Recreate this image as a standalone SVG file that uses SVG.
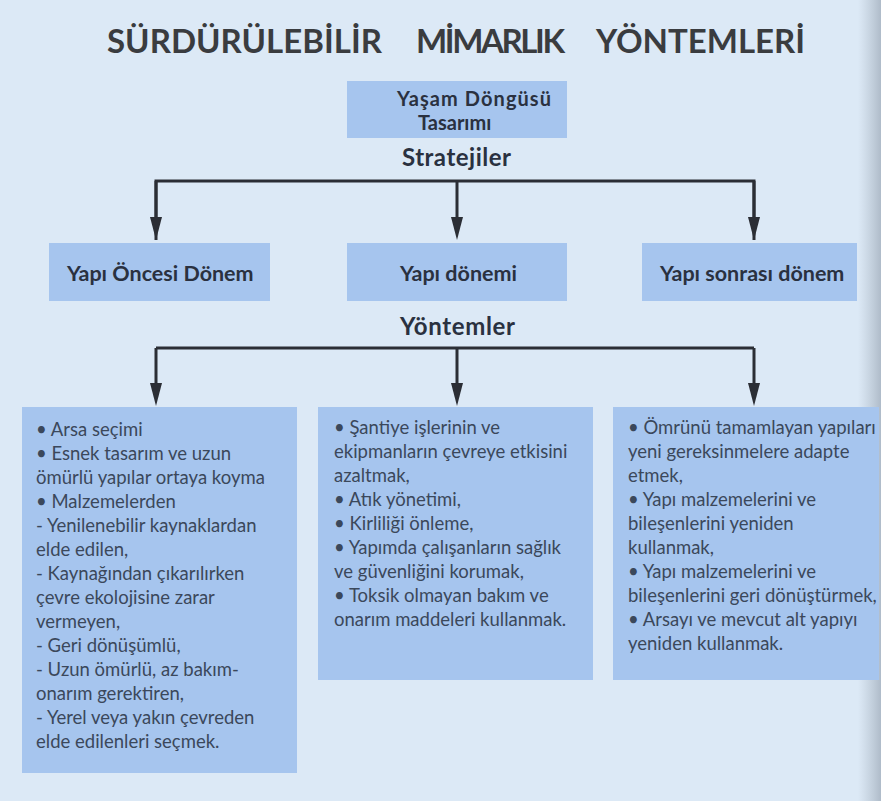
<svg xmlns="http://www.w3.org/2000/svg" width="881" height="801" viewBox="0 0 881 801">
<defs>
<linearGradient id="edge" x1="0" y1="0" x2="1" y2="0">
<stop offset="0" stop-color="#9aa6b2" stop-opacity="0"/>
<stop offset="1" stop-color="#8a96a4" stop-opacity="0.55"/>
</linearGradient>
<marker id="arr" markerUnits="userSpaceOnUse" markerWidth="24" markerHeight="14" refX="1" refY="6" orient="auto">
<path d="M0,0 L23,6 L0,12 Z" fill="#2b2e35"/>
</marker>
<style>
.box{fill:#a6c5ee;}
.lbl{font-family:Lato,"Open Sans","Liberation Sans",sans-serif;font-weight:700;fill:#2a3140;}
.title{font-family:Lato,"Open Sans","Liberation Sans",sans-serif;font-weight:700;font-size:33px;fill:#3a3c3f;}
.body{font-family:Lato,"Open Sans","Liberation Sans",sans-serif;font-size:18.5px;fill:#3b485b;}
.conn{fill:none;stroke:#2b2e35;stroke-width:3;}
</style>
</defs>
<rect width="881" height="801" fill="#dce9f6"/>
<rect x="858" y="0" width="23" height="801" fill="url(#edge)"/>

<g id="title">
<text class="title" x="107" y="53" textLength="275">SÜRDÜRÜLEBİLİR</text>
<text class="title" x="416" y="53" textLength="149">MİMARLIK</text>
<text class="title" x="596" y="53" textLength="209">YÖNTEMLERİ</text>
</g>

<g id="node-yasam">
<rect class="box" x="347" y="81" width="220" height="57"/>
<text class="lbl" x="397" y="106" font-size="20" textLength="154">Yaşam Döngüsü</text>
<text class="lbl" x="418" y="130" font-size="20">Tasarımı</text>
</g>

<g id="label-stratejiler">
<text class="lbl" x="402" y="166" font-size="24" textLength="109">Stratejiler</text>
</g>

<g id="node-oncesi">
<rect class="box" x="49" y="243" width="221" height="58"/>
<text class="lbl" x="67" y="281" font-size="21.5">Yapı Öncesi Dönem</text>
</g>
<g id="node-donemi">
<rect class="box" x="347" y="243" width="220" height="58"/>
<text class="lbl" x="400" y="281" font-size="21.5">Yapı dönemi</text>
</g>
<g id="node-sonrasi">
<rect class="box" x="642" y="243" width="215" height="58"/>
<text class="lbl" x="660" y="281" font-size="21.5">Yapı sonrası dönem</text>
</g>

<g id="label-yontemler">
<text class="lbl" x="400" y="335" font-size="24" textLength="115">Yöntemler</text>
</g>

<g id="node-left">
<rect class="box" x="22" y="407" width="275" height="366"/>
<text class="body">
<tspan x="36" y="436">• Arsa seçimi</tspan>
<tspan x="36" y="460">• Esnek tasarım ve uzun</tspan>
<tspan x="36" y="484">ömürlü yapılar ortaya koyma</tspan>
<tspan x="36" y="508">• Malzemelerden</tspan>
<tspan x="36" y="532">- Yenilenebilir kaynaklardan</tspan>
<tspan x="36" y="556">elde edilen,</tspan>
<tspan x="36" y="580">- Kaynağından çıkarılırken</tspan>
<tspan x="36" y="604">çevre ekolojisine zarar</tspan>
<tspan x="36" y="628">vermeyen,</tspan>
<tspan x="36" y="652">- Geri dönüşümlü,</tspan>
<tspan x="36" y="676">- Uzun ömürlü, az bakım-</tspan>
<tspan x="36" y="700">onarım gerektiren,</tspan>
<tspan x="36" y="724">- Yerel veya yakın çevreden</tspan>
<tspan x="36" y="748">elde edilenleri seçmek.</tspan>
</text>
</g>

<g id="node-middle">
<rect class="box" x="318" y="407" width="275" height="273"/>
<text class="body">
<tspan x="334" y="434">• Şantiye işlerinin ve</tspan>
<tspan x="334" y="458">ekipmanların çevreye etkisini</tspan>
<tspan x="334" y="482">azaltmak,</tspan>
<tspan x="334" y="506">• Atık yönetimi,</tspan>
<tspan x="334" y="530">• Kirliliği önleme,</tspan>
<tspan x="334" y="554">• Yapımda çalışanların sağlık</tspan>
<tspan x="334" y="578">ve güvenliğini korumak,</tspan>
<tspan x="334" y="602">• Toksik olmayan bakım ve</tspan>
<tspan x="334" y="626">onarım maddeleri kullanmak.</tspan>
</text>
</g>

<g id="node-right">
<rect class="box" x="613" y="407" width="266" height="273"/>
<text class="body">
<tspan x="628" y="434">• Ömrünü tamamlayan yapıları</tspan>
<tspan x="628" y="458">yeni gereksinmelere adapte</tspan>
<tspan x="628" y="482">etmek,</tspan>
<tspan x="628" y="506">• Yapı malzemelerini ve</tspan>
<tspan x="628" y="530">bileşenlerini yeniden</tspan>
<tspan x="628" y="554">kullanmak,</tspan>
<tspan x="628" y="578">• Yapı malzemelerini ve</tspan>
<tspan x="628" y="602">bileşenlerini geri dönüştürmek,</tspan>
<tspan x="628" y="626">• Arsayı ve mevcut alt yapıyı</tspan>
<tspan x="628" y="650">yeniden kullanmak.</tspan>
</text>
</g>

<g id="connectors">
<path class="conn" d="M156,240 V181 H754 V240"/>
<path class="conn" d="M156,181 V218" marker-end="url(#arr)"/>
<path class="conn" d="M457,181 V218" marker-end="url(#arr)"/>
<path class="conn" d="M754,181 V218" marker-end="url(#arr)"/>
<path class="conn" d="M156,348 H754"/>
<path class="conn" d="M156,348 V384" marker-end="url(#arr)"/>
<path class="conn" d="M457,348 V384" marker-end="url(#arr)"/>
<path class="conn" d="M754,348 V384" marker-end="url(#arr)"/>
</g>
</svg>
